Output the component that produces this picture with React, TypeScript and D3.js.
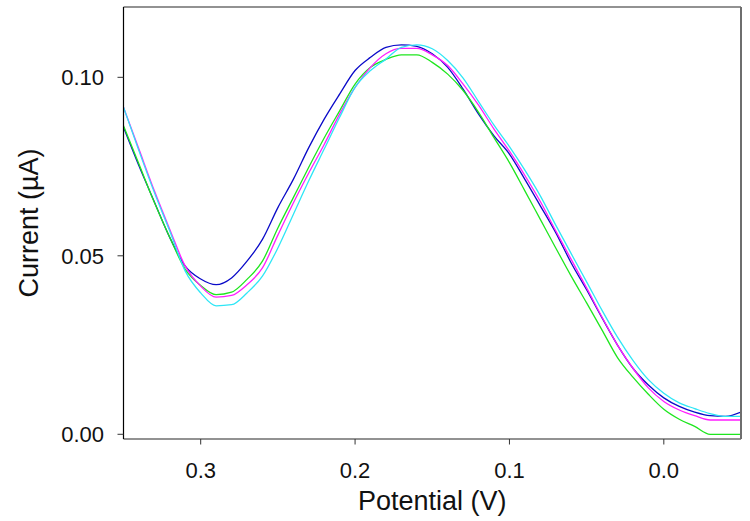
import { useEffect, useRef } from 'react'
import * as d3 from 'd3'

// Potential (V), scanned from 0.35 down to -0.05
const potential = [
  0.35, 0.34, 0.33, 0.32, 0.31, 0.30, 0.29, 0.28, 0.27, 0.26,
  0.25, 0.24, 0.23, 0.22, 0.21, 0.20, 0.19, 0.18, 0.17, 0.16,
  0.15, 0.14, 0.13, 0.12, 0.11, 0.10, 0.09, 0.08, 0.07, 0.06,
  0.05, 0.04, 0.03, 0.02, 0.01, 0.00, -0.01, -0.02, -0.03, -0.04, -0.05,
]

// Current (µA) per trace
const blueCurrent = [
  0.0860, 0.0752, 0.0651, 0.0551, 0.0471, 0.0435, 0.0419, 0.0438, 0.0485, 0.0546,
  0.0635, 0.0714, 0.0803, 0.0883, 0.0953, 0.1019, 0.1056, 0.1084, 0.1091, 0.1087,
  0.1066, 0.1028, 0.0967, 0.0897, 0.0836, 0.0785, 0.0714, 0.0640, 0.0565, 0.0480,
  0.0405, 0.0326, 0.0250, 0.0185, 0.0138, 0.0102, 0.0078, 0.0062, 0.0052, 0.0050, 0.0062,
]
const greenCurrent = [
  0.0864, 0.0757, 0.0649, 0.0551, 0.0462, 0.0417, 0.0391, 0.0398, 0.0434, 0.0485,
  0.0578, 0.0663, 0.0748, 0.0830, 0.0906, 0.0981, 0.1028, 0.1050, 0.1063, 0.1063,
  0.1042, 0.1009, 0.0963, 0.0902, 0.0831, 0.0761, 0.0682, 0.0602, 0.0522, 0.0443,
  0.0368, 0.0292, 0.0215, 0.0160, 0.0112, 0.0070, 0.0042, 0.0022, 0.0000, 0.0000, 0.0000,
]
const magentaCurrent = [
  0.0916, 0.0799, 0.0682, 0.0574, 0.0471, 0.0415, 0.0384, 0.0389, 0.0419, 0.0466,
  0.0558, 0.0648, 0.0732, 0.0812, 0.0897, 0.0972, 0.1028, 0.1066, 0.1081, 0.1081,
  0.1063, 0.1033, 0.0981, 0.0922, 0.0855, 0.0793, 0.0725, 0.0652, 0.0570, 0.0490,
  0.0410, 0.0328, 0.0250, 0.0185, 0.0130, 0.0092, 0.0068, 0.0052, 0.0040, 0.0040, 0.0040,
]
const cyanCurrent = [
  0.0916, 0.0794, 0.0677, 0.0569, 0.0457, 0.0396, 0.0360, 0.0363, 0.0396, 0.0443,
  0.0522, 0.0616, 0.0710, 0.0799, 0.0888, 0.0972, 0.1019, 0.1051, 0.1084, 0.1091,
  0.1080, 0.1047, 0.0998, 0.0932, 0.0866, 0.0806, 0.0740, 0.0668, 0.0586, 0.0506,
  0.0427, 0.0347, 0.0272, 0.0207, 0.0153, 0.0115, 0.0088, 0.0072, 0.0058, 0.0050, 0.0050,
]

const xTicks = [0.3, 0.2, 0.1, 0.0]
const yTicks = [0.0, 0.05, 0.1]

const series = [
  { name: 'blue', values: blueCurrent, color: '#0a0ac8' },
  { name: 'green', values: greenCurrent, color: '#1ee61e' },
  { name: 'magenta', values: magentaCurrent, color: '#ff1eff' },
  { name: 'cyan', values: cyanCurrent, color: '#2ee6f6' },
]

export default function App() {
  const svgRef = useRef<SVGSVGElement | null>(null)

  useEffect(() => {
    if (!svgRef.current) return
    const width = 750
    const height = 521
    const left = 123.5, right = 741, top = 7, bottom = 439
    const font = "'Liberation Sans', Arial, sans-serif"

    const svg = d3.select(svgRef.current)
    svg.selectAll('*').remove()

    const x = d3.scaleLinear().domain([0.35, -0.05]).range([left, right])
    const y = d3.scaleLinear().domain([-0.00132, 0.1197]).range([bottom, top])

    // traces
    const line = d3.line<number>()
      .x((_, i) => x(potential[i]))
      .y(d => y(d))
      .curve(d3.curveMonotoneX)

    const clip = svg.append('defs').append('clipPath').attr('id', 'plot-clip')
    clip.append('rect')
      .attr('x', left).attr('y', top)
      .attr('width', right - left).attr('height', bottom - top)

    svg.append('g')
      .attr('clip-path', 'url(#plot-clip)')
      .selectAll('path')
      .data(series)
      .join('path')
      .attr('d', d => line(d.values))
      .attr('fill', 'none')
      .attr('stroke', d => d.color)
      .attr('stroke-width', 1.3)

    // frame
    svg.append('line')
      .attr('x1', left).attr('x2', right).attr('y1', top).attr('y2', top)
      .attr('stroke', '#6e6e6e').attr('stroke-width', 1.5)
    svg.append('line')
      .attr('x1', right).attr('x2', right).attr('y1', top).attr('y2', bottom)
      .attr('stroke', '#6e6e6e').attr('stroke-width', 2)
    svg.append('line')
      .attr('x1', left).attr('x2', right).attr('y1', bottom).attr('y2', bottom)
      .attr('stroke', '#6e6e6e').attr('stroke-width', 1.5)
    svg.append('line')
      .attr('x1', left).attr('x2', left).attr('y1', top).attr('y2', bottom)
      .attr('stroke', '#000').attr('stroke-width', 1.2)

    // X axis
    const gx = svg.append('g')
    gx.selectAll('line')
      .data(xTicks)
      .join('line')
      .attr('x1', d => x(d)).attr('x2', d => x(d))
      .attr('y1', bottom).attr('y2', bottom + 5.5)
      .attr('stroke', '#333').attr('stroke-width', 1)
    gx.selectAll('text')
      .data(xTicks)
      .join('text')
      .attr('x', d => x(d))
      .attr('y', 478)
      .attr('text-anchor', 'middle')
      .attr('font-family', font)
      .attr('font-size', 22)
      .attr('fill', '#111')
      .text(d => d3.format('.1f')(Math.abs(d) < 1e-9 ? 0 : d))

    // Y axis
    const gy = svg.append('g')
    gy.selectAll('line')
      .data(yTicks)
      .join('line')
      .attr('x1', left - 6).attr('x2', left)
      .attr('y1', d => y(d)).attr('y2', d => y(d))
      .attr('stroke', '#333').attr('stroke-width', 1)
    gy.selectAll('text')
      .data(yTicks)
      .join('text')
      .attr('x', 104)
      .attr('y', d => y(d))
      .attr('dy', '0.36em')
      .attr('text-anchor', 'end')
      .attr('font-family', font)
      .attr('font-size', 22)
      .attr('fill', '#111')
      .text(d => d3.format('.2f')(d))

    // titles
    svg.append('text')
      .attr('x', (left + right) / 2)
      .attr('y', 510)
      .attr('text-anchor', 'middle')
      .attr('font-family', font)
      .attr('font-size', 27)
      .attr('fill', '#111')
      .text('Potential (V)')

    svg.append('text')
      .attr('transform', `translate(38,${(top + bottom) / 2}) rotate(-90)`)
      .attr('text-anchor', 'middle')
      .attr('font-family', font)
      .attr('font-size', 27)
      .attr('fill', '#111')
      .text('Current (µA)')

    svg.attr('width', width).attr('height', height)
  }, [])

  return (
    <svg
      ref={svgRef}
      width={750}
      height={521}
      style={{ position: 'absolute', left: 0, top: 0, background: '#fff' }}
    />
  )
}
